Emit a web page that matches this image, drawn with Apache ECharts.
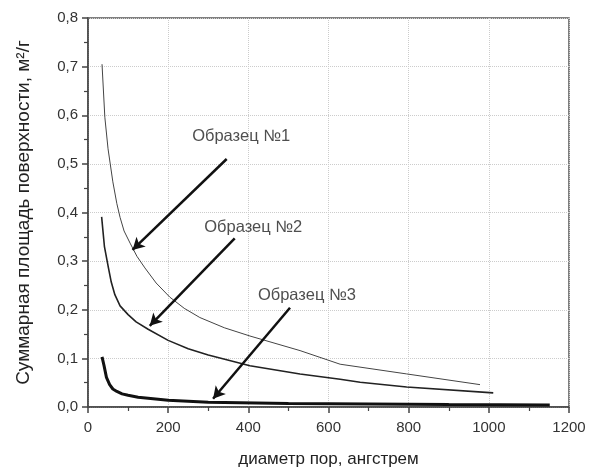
<!DOCTYPE html>
<html>
<head>
<meta charset="utf-8">
<script src="https://cdn.jsdelivr.net/npm/echarts@6/dist/echarts.min.js"></script>
<style>
  html, body { margin: 0; padding: 0; background: #fff; }
  #chart { width: 593px; height: 473px; }
</style>
</head>
<body>
<div id="chart"></div>
<script>
// Образец №1 (тонкая линия)
const s1x = [35, 42, 50, 62, 72, 80, 90, 105, 122, 142, 170, 204, 240, 279, 340, 404, 529, 629, 795, 978];
const s1y = [0.705, 0.596, 0.531, 0.463, 0.418, 0.39, 0.362, 0.337, 0.31, 0.286, 0.255, 0.226, 0.203, 0.184, 0.163, 0.146, 0.116, 0.088, 0.068, 0.046];
// Образец №2
const s2x = [34, 41, 51, 58, 67, 80, 100, 120, 150, 200, 250, 300, 404, 529, 629, 679, 795, 1011];
const s2y = [0.391, 0.33, 0.286, 0.257, 0.231, 0.208, 0.19, 0.175, 0.16, 0.137, 0.12, 0.107, 0.085, 0.068, 0.057, 0.051, 0.041, 0.029];
// Образец №3 (толстая линия)
const s3x = [35, 40, 46, 54, 62, 72, 85, 100, 125, 150, 200, 300, 500, 700, 900, 1152];
const s3y = [0.103, 0.085, 0.061, 0.046, 0.037, 0.032, 0.027, 0.024, 0.020, 0.018, 0.014, 0.010, 0.007, 0.006, 0.005, 0.004];

const labelNames = ['Образец №1', 'Образец №2', 'Образец №3'];
// подписи и стрелки в координатах данных
const labelPos = [[382, 0.557], [412, 0.369], [546, 0.229]];
const arrowFrom = [[346, 0.51], [366, 0.347], [504, 0.204]];
const arrowTo = [[111, 0.323], [154, 0.167], [312, 0.017]];

const FONT = '"Liberation Sans", Arial, sans-serif';

function pairs(xs, ys) {
    return xs.map((x, i) => [x, ys[i]]);
}

const chart = echarts.init(document.getElementById('chart'));

const option = {
    animation: false,
    grid: {
        left: 88,
        right: 24,
        top: 18,
        bottom: 63,
        show: true,
        borderColor: '#555',
        borderWidth: 1.5,
        backgroundColor: 'transparent'
    },
    xAxis: {
        type: 'value',
        min: 0,
        max: 1200,
        interval: 200,
        name: 'диаметр пор, ангстрем',
        nameLocation: 'middle',
        nameGap: 44,
        nameTextStyle: { fontFamily: FONT, fontSize: 17, color: '#222' },
        axisLine: { show: true, lineStyle: { color: '#444', width: 1.5 } },
        axisTick: { show: true, inside: false, length: 6, lineStyle: { color: '#444', width: 1.5 } },
        minorTick: { show: true, splitNumber: 2, length: 4, lineStyle: { color: '#444', width: 1.2 } },
        axisLabel: {
            fontFamily: FONT, fontSize: 15, color: '#333', margin: 13,
            formatter: v => String(v)
        },
        splitLine: { show: true, lineStyle: { color: '#ccc', type: 'dotted', width: 1 } }
    },
    yAxis: {
        type: 'value',
        min: 0,
        max: 0.8,
        interval: 0.1,
        name: 'Суммарная площадь поверхности, м²/г',
        nameLocation: 'middle',
        nameGap: 55,
        nameTextStyle: { fontFamily: FONT, fontSize: 19, color: '#222' },
        axisLine: { show: true, lineStyle: { color: '#444', width: 1.5 } },
        axisTick: { show: true, inside: false, length: 6, lineStyle: { color: '#444', width: 1.5 } },
        minorTick: { show: true, splitNumber: 2, length: 4, lineStyle: { color: '#444', width: 1.2 } },
        axisLabel: {
            fontFamily: FONT, fontSize: 15, color: '#333', margin: 10,
            formatter: v => v.toFixed(1).replace('.', ',')
        },
        splitLine: { show: true, lineStyle: { color: '#ccc', type: 'dotted', width: 1 } }
    },
    series: [
        {
            name: labelNames[0],
            type: 'line',
            data: pairs(s1x, s1y),
            showSymbol: false,
            smooth: false,
            lineStyle: { color: '#444', width: 1 }
        },
        {
            name: labelNames[1],
            type: 'line',
            data: pairs(s2x, s2y),
            showSymbol: false,
            smooth: false,
            lineStyle: { color: '#222', width: 1.6 }
        },
        {
            name: labelNames[2],
            type: 'line',
            data: pairs(s3x, s3y),
            showSymbol: false,
            smooth: false,
            lineStyle: { color: '#111', width: 3 },
            markLine: {
                silent: true,
                symbol: ['none', 'arrow'],
                symbolSize: [10, 12],
                label: { show: false },
                lineStyle: { color: '#111', width: 2.5, type: 'solid' },
                data: arrowFrom.map((p, i) => [{ coord: p }, { coord: arrowTo[i] }])
            }
        },
        {
            type: 'scatter',
            silent: true,
            symbolSize: 0,
            data: labelPos.map((p, i) => ({ value: p, name: labelNames[i] })),
            label: {
                show: true,
                position: 'inside',
                formatter: '{b}',
                fontFamily: FONT,
                fontSize: 16.5,
                color: '#222'
            }
        }
    ]
};

chart.setOption(option);
</script>
</body>
</html>
